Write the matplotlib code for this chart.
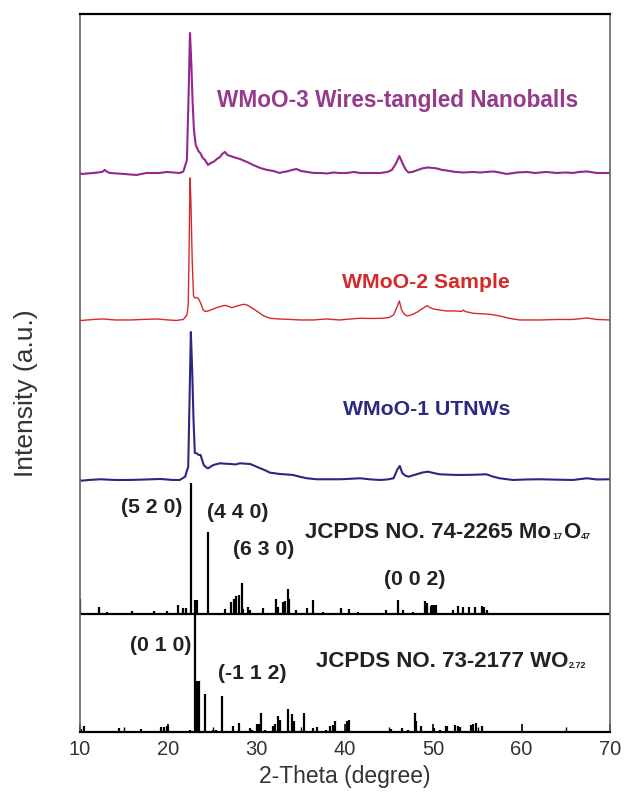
"""XRD patterns of WMoO samples with JCPDS reference stick patterns."""

import matplotlib

matplotlib.use("Agg")
import matplotlib.pyplot as plt

plt.rcParams["font.family"] = ["Liberation Sans", "DejaVu Sans"]

# --- sample patterns (2-theta, intensity above own baseline, a.u.) ---
wmoo3_theta = [10.0, 10.2, 11.5, 12.5, 12.8, 13.1, 13.4, 15.0, 16.4, 17.5, 19.0, 19.8,
               21.3, 21.7, 22.1, 22.3, 22.45, 22.6, 22.75, 22.9, 23.1, 23.4, 23.6, 23.9,
               24.15, 24.5, 24.8, 25.1, 25.5, 25.85, 26.1, 26.4, 26.7, 27.35, 28.1, 28.9,
               29.6, 30.4, 31.2, 31.9, 32.6, 33.0, 33.4, 34.0, 34.5, 35.0, 35.7, 36.5,
               37.2, 38.0, 38.7, 39.4, 40.2, 41.0, 41.7, 43.0, 44.0, 44.8, 45.3, 45.6,
               45.85, 46.15, 46.4, 46.6, 46.9, 47.2, 47.6, 48.1, 48.7, 49.4, 50.0, 50.4,
               51.0, 51.5, 52.5, 53.4, 54.5, 55.3, 56.0, 56.8, 57.5, 58.3, 59.5, 60.6,
               61.5, 62.8, 64.0, 65.0, 65.8, 66.5, 67.4, 68.5, 69.6, 70.0]
wmoo3_int = [0, -1, 0, 1, 3, 1, 0, -1, -2, 0, 0, 1,
             0, 1.5, 13, 80, 140, 110, 70, 43, 28, 22, 20, 15,
             13, 8, 10, 11, 14, 16, 19, 21, 18, 16, 14, 11,
             8, 5, 3, 2, 0, 1, 1.5, 3, 4, 2, 1, 0,
             0, -0.5, 0.5, 0, 0, 1, 0, 0, 0, 1, 3, 7,
             11, 17, 12, 8, 3, 0.5, 1, 2.5, 4.5, 5.5, 5, 4.5,
             3, 2.5, 1, 0.5, 1, 0.5, 1, 1.5, 0.5, -1, 0.5, 1,
             0, 1, 0, 0.5, 0, 1, 1.5, 0, 0, 0]

wmoo2_theta = [10.0, 10.2, 11.5, 12.6, 14.0, 15.7, 17.0, 18.7, 20.0, 20.9, 21.7, 22.1,
               22.25, 22.35, 22.45, 22.55, 22.7, 22.85, 23.0, 23.2, 23.4, 23.65, 23.95,
               24.2, 24.5, 25.1, 25.5, 25.85, 26.3, 26.6, 27.2, 27.6, 27.9, 28.5, 28.9,
               29.25, 30.0, 30.75, 31.5, 32.5, 33.4, 35.0, 36.4, 37.9, 39.4, 40.2, 41.7,
               43.0, 44.3, 45.0, 45.5, 45.9, 46.15, 46.4, 46.7, 47.0, 47.3, 47.7, 48.2,
               48.7, 49.3, 49.6, 50.0, 50.7, 51.5, 52.5, 53.2, 53.4, 53.6, 54.5, 55.5,
               56.4, 57.5, 58.3, 59.0, 59.8, 61.0, 62.1, 64.0, 65.8, 67.4, 68.5, 70.0]
wmoo2_int = [0, -0.5, 0.5, 1, 0, 0, 0.5, 1, 0, -0.5, 0.5, 5,
             15, 70, 142, 120, 60, 24, 22, 22.5, 21.5, 17, 10,
             8.5, 9, 11, 12.5, 13.3, 14.5, 14.3, 12.3, 13.5, 14.3, 15.7, 15,
             13.3, 9, 4.3, 1.7, 1, 0.7, 0, 0, 1, 0, 0.7, 1.7,
             1.5, 1.7, 2.5, 5, 13.3, 19, 10, 6, 4, 4.5, 5.7, 8,
             11, 14.3, 12.5, 11, 10, 9, 9, 8.5, 10, 8.5, 6.7, 6.2,
             5.7, 4, 2.3, 1, 0, 0, 0, 0.5, 0.5, 2, 0.5, 0]

wmoo1_theta = [10.0, 10.2, 11.0, 12.3, 14.0, 15.7, 17.5, 19.1, 20.5, 21.3, 21.9, 22.25,
               22.4, 22.55, 22.7, 22.85, 23.0, 23.2, 23.45, 23.65, 24.0, 24.3, 24.5,
               25.1, 25.85, 26.4, 27.0, 27.6, 28.1, 28.7, 29.25, 29.8, 30.4, 31.0, 31.5,
               32.6, 34.1, 35.0, 35.7, 36.8, 37.9, 39.4, 40.2, 41.7, 43.0, 44.0, 44.8,
               45.5, 45.9, 46.2, 46.5, 46.8, 47.2, 48.1, 48.8, 49.4, 50.0, 50.7, 52.0,
               53.0, 54.5, 55.5, 56.0, 56.7, 57.5, 59.0, 60.5, 62.1, 64.0, 65.8, 67.4,
               68.5, 70.0]
wmoo1_int = [0, -0.7, 0, 0.7, 0, 0, 0.5, 1, 0, 0, 3.3, 13.3,
             80, 148, 110, 60, 27, 26.7, 25, 25, 15, 12.5, 11.7,
             15, 16.7, 16.3, 16, 15.5, 16.7, 16.3, 16, 14, 11.7, 9.5, 7.3,
             6, 5, 3, 1.7, 0.7, 0.7, 0.7, 1, 1.7, 0.5, 0, 0.5,
             1.7, 10, 14, 6.7, 4.5, 3.3, 5.7, 7.5, 8.3, 7, 5.7, 5.2,
             5, 5.2, 5.5, 5.7, 3.5, 1.7, 0, 0.5, 0.7, 0.3, 0, 1.7,
             0.5, 0.7]

# --- JCPDS 74-2265 Mo17O47 (relative intensity, strongest = 100) ---
mo_theta = [10.0, 12.2, 13.0, 15.9, 18.4, 19.8, 21.05, 21.7, 22.0, 22.6, 23.0, 23.2,
            24.5, 26.4, 27.15, 27.45, 27.7, 28.0, 28.3, 28.5, 29.0, 29.3, 30.7, 32.2,
            32.4, 33.0, 33.2, 33.5, 33.7, 34.45, 35.7, 36.4, 37.5, 39.6, 40.4, 41.5,
            44.6, 46.0, 46.6, 47.65, 49.1, 49.3, 49.7, 49.9, 50.1, 50.3, 52.2, 52.8,
            53.4, 54.0, 54.7, 55.5, 55.7, 56.1]
mo_int = [11.2, 5.3, 1.8, 2.0, 2.5, 2.3, 6.9, 4.8, 4.8, 100, 10.7, 10.7,
          62.8, 3.8, 8.9, 11.5, 14.0, 14.7, 23.4, 3.6, 5.1, 3.0, 4.3, 11.5,
          5.6, 8.9, 10.2, 19.3, 11.5, 3.0, 4.3, 10.7, 1.8, 4.3, 3.6, 1.8,
          3.0, 10.7, 3.0, 1.8, 10.2, 8.2, 6.1, 6.6, 6.6, 6.6, 3.0, 6.1,
          5.1, 5.1, 5.1, 6.1, 5.6, 3.0]

# --- JCPDS 73-2177 WO2.72 ---
wo_theta = [10.1, 10.5, 14.45, 16.85, 19.2, 19.5, 19.8, 20.0, 22.5, 23.05, 23.25, 23.45,
            24.15, 25.0, 25.4, 26.1, 27.3, 28.0, 29.2, 29.5, 30.05, 30.25, 30.5, 30.9,
            31.8, 32.1, 32.4, 32.6, 33.6, 34.0, 34.2, 35.4, 36.4, 36.8, 37.9, 38.3,
            38.6, 38.9, 40.2, 40.4, 45.2, 46.5, 47.1, 47.9, 48.0, 48.6, 50.1, 50.7,
            51.4, 51.6, 52.4, 52.8, 53.0, 54.25, 54.5, 54.8, 55.5]
wo_int = [2.8, 4.8, 3.4, 2.8, 4.0, 4.0, 4.8, 4.8, 2.0, 100, 43, 43,
          32.2, 2.0, 2.0, 30.3, 4.8, 7.6, 3.4, 2.0, 6.8, 6.8, 16.1, 2.0,
          4.8, 6.8, 13.3, 10.4, 19.7, 15.3, 9.6, 16.1, 3.4, 4.0, 2.0, 4.8,
          6.2, 9.1, 9.1, 10.4, 2.8, 3.4, 2.0, 16.1, 9.1, 4.8, 3.4, 2.0,
          5.3, 5.3, 6.2, 4.8, 4.0, 6.2, 6.8, 7.6, 5.3]

x_ticks = [10, 20, 30, 40, 50, 60, 70]

fig = plt.figure(figsize=(6.29, 7.99), dpi=100)
ax = fig.add_axes([0.1272, 0.0839, 0.8426, 0.8986])
ax.set_xlim(10, 70)
ax.set_ylim(0, 718)

# stacked sample curves
ax.plot(wmoo3_theta, [v + 559 for v in wmoo3_int], color="#93268f", lw=1.5)
ax.plot(wmoo2_theta, [v + 412 for v in wmoo2_int], color="#d62a2a", lw=1.0)
ax.plot(wmoo1_theta, [v + 252 for v in wmoo1_int], color="#2b2882", lw=1.5)

# reference stick patterns
mo_base, mo_scale = 118, 1.31
ax.vlines(mo_theta, mo_base, [mo_base + v * mo_scale for v in mo_int],
          color="black", lw=1.6)
ax.axhline(mo_base, color="black", lw=1.6)
wo_scale = 1.18
ax.vlines(wo_theta, 0, [v * wo_scale for v in wo_int], color="black", lw=1.6)

# sample labels
lab = dict(fontweight="bold", ha="center", va="center")
ax.text(46.0, 631, "WMoO-3 Wires-tangled Nanoballs", color="#963a8c", fontsize=16.3, **lab)
ax.text(49.1, 449, "WMoO-2 Sample", color="#d42a2a", fontsize=15.3, **lab)
ax.text(49.2, 322, "WMoO-1 UTNWs", color="#2b2a80", fontsize=15.3, **lab)

hkl = dict(fontsize=15.3, fontweight="bold", ha="center", va="center", color="#222222")
ax.text(18.1, 224, "(5 2 0)", **hkl)
ax.text(27.8, 219, "(4 4 0)", **hkl)
ax.text(30.8, 182, "(6 3 0)", **hkl)
ax.text(47.9, 152, "(0 0 2)", **hkl)
ax.text(19.1, 86, "(0 1 0)", **hkl)
ax.text(29.5, 58, "(-1 1 2)", **hkl)


def formula_label(x, y, parts):
    """Draw bold text with small lowered subscripts, piece by piece."""
    main = dict(fontsize=16, fontweight="bold", color="#222222")
    sub = dict(fontsize=6.5, fontweight="bold", color="#222222")
    first = ax.text(x, y, parts[0], ha="left", va="center", **main)
    prev = first
    for i, piece in enumerate(parts[1:]):
        if i % 2 == 0:
            prev = ax.annotate(piece, xy=(1, 0), xycoords=(prev, first),
                               xytext=(0.5, 1.5), textcoords="offset points",
                               ha="left", va="bottom", **sub)
        else:
            prev = ax.annotate(piece, xy=(1, 0), xycoords=(prev, first),
                               xytext=(0.5, 0), textcoords="offset points",
                               ha="left", va="bottom", **main)


formula_label(35.5, 199, ["JCPDS NO. 74-2265 Mo", "17", "O", "47"])
formula_label(36.7, 70, ["JCPDS NO. 73-2177 WO", "2.72"])

# axes styling
ax.set_xticks(x_ticks)
ax.set_xticks(range(15, 70, 10), minor=True)
ax.set_yticks([])
ax.tick_params(axis="x", which="major", direction="in", length=6, width=1.2,
               labelsize=14.5, labelcolor="#333333", pad=6)
ax.tick_params(axis="x", which="minor", direction="in", length=3.5, width=1.0)
for side in ["top", "bottom"]:
    ax.spines[side].set_linewidth(1.6)
    ax.spines[side].set_color("black")
for side in ["left", "right"]:
    ax.spines[side].set_linewidth(1.2)
    ax.spines[side].set_color("#666666")

ax.set_xlabel("2-Theta (degree)", fontsize=16.5, color="#333333", labelpad=4)
fig.text(26 / 629, 0.508, "Intensity (a.u.)", rotation=90, ha="center", va="center",
         fontsize=19, color="#333333")

fig.savefig("out.png", dpi=100)
